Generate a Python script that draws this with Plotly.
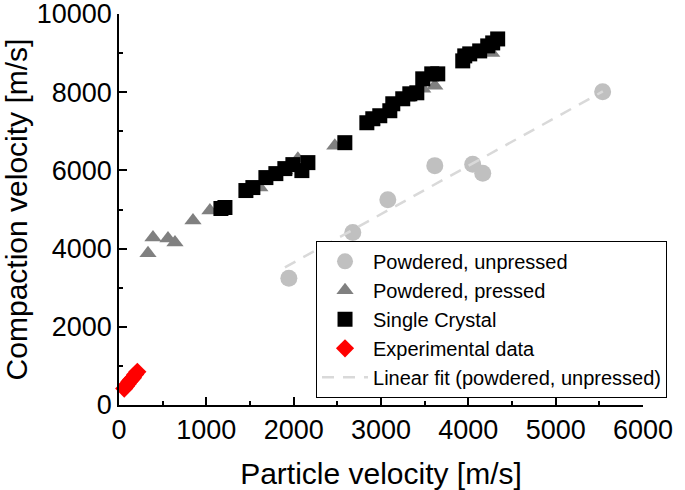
import plotly.graph_objects as go

# Powdered, unpressed
unp_x = [1945, 2677, 3078, 3616, 4050, 4165, 5538]
unp_y = [3240, 4413, 5250, 6122, 6160, 5930, 8010]

# Powdered, pressed
pr_x = [332, 389, 561, 641, 847, 1041, 1190, 1613, 1900, 2048, 2471, 2900, 3300, 3478, 3616, 4100, 4268]
pr_y = [3878, 4286, 4260, 4158, 4719, 4974, 4990, 5561, 6000, 6301, 6633, 7250, 7850, 8087, 8163, 9000, 9005]

# Single crystal
sc_x = [1167, 1213, 1453, 1533, 1682, 1796, 1899, 1991, 2094, 2163, 2586,
        2838, 2906, 2986, 3101, 3135, 3249, 3330, 3410, 3478, 3581, 3650,
        3936, 3959, 4016, 4130, 4222, 4279, 4336]
sc_y = [5026, 5051, 5485, 5561, 5816, 5918, 6046, 6148, 5995, 6199, 6709,
        7219, 7321, 7398, 7526, 7704, 7832, 7959, 7985, 8342, 8469, 8469,
        8801, 8929, 8980, 9056, 9184, 9260, 9362]

# Experimental data
ex_x = [60, 80, 100, 120, 140, 160, 185, 210]
ex_y = [420, 480, 540, 600, 650, 700, 780, 850]

# Linear fit (powdered, unpressed) endpoints
fit_x = [1900, 5540]
fit_y = [3520, 8020]

# Tick values / labels
x_ticks = [0, 1000, 2000, 3000, 4000, 5000, 6000]
y_ticks = [0, 2000, 4000, 6000, 8000, 10000]

FONT = "Liberation Sans"

fig = go.Figure()
fig.add_trace(go.Scatter(x=unp_x, y=unp_y, mode="markers", name="Powdered, unpressed",
                         marker=dict(symbol="circle", size=17, color="#c0c0c0")))
fig.add_trace(go.Scatter(x=pr_x, y=pr_y, mode="markers", name="Powdered, pressed",
                         marker=dict(symbol="triangle-up", size=15, color="#808080")))
fig.add_trace(go.Scatter(x=sc_x, y=sc_y, mode="markers", name="Single Crystal",
                         marker=dict(symbol="square", size=15, color="black")))
fig.add_trace(go.Scatter(x=ex_x, y=ex_y, mode="markers", name="Experimental data",
                         marker=dict(symbol="diamond", size=14, color="#ff0000")))
fig.add_trace(go.Scatter(x=fit_x, y=fit_y, mode="lines", name="Linear fit (powdered, unpressed)",
                         line=dict(color="#d9d9d9", width=2.5, dash="12px,9px")))

fig.update_traces(cliponaxis=False)

fig.update_layout(
    width=685, height=490,
    margin=dict(l=119, r=42, t=14, b=85, autoexpand=False),
    paper_bgcolor="white", plot_bgcolor="white",
    font=dict(family=FONT, color="black", size=27),
    xaxis=dict(
        range=[0, 6000], tickmode="array", tickvals=x_ticks, ticktext=[str(v) for v in x_ticks],
        showline=True, linecolor="black", linewidth=1.5,
        ticks="inside", ticklen=8, tickwidth=1.5, tickcolor="black",
        minor=dict(ticks="inside", ticklen=4, tickwidth=1.5, tickcolor="black", dtick=500, tick0=0),
        showgrid=False, zeroline=False, automargin=False, ticklabeloverflow="allow",
        tickfont=dict(family=FONT, size=27, color="black"),
        title=dict(text="Particle velocity [m/s]", font=dict(family=FONT, size=30, color="black"), standoff=19),
    ),
    yaxis=dict(
        range=[0, 10000], tickmode="array", tickvals=y_ticks, ticktext=[str(v) for v in y_ticks],
        showline=True, linecolor="black", linewidth=1.5,
        ticks="inside", ticklen=8, tickwidth=1.5, tickcolor="black",
        minor=dict(ticks="inside", ticklen=4, tickwidth=1.5, tickcolor="black", dtick=1000, tick0=0),
        showgrid=False, zeroline=False, automargin=False, ticklabeloverflow="allow",
        tickfont=dict(family=FONT, size=27, color="black"),
        title=dict(text="Compaction velocity [m/s]", font=dict(family=FONT, size=30, color="black"), standoff=6),
    ),
    legend=dict(x=0.376, y=0.219, xanchor="left", yanchor="middle",
                bordercolor="black", borderwidth=1, bgcolor="white",
                font=dict(family=FONT, size=20, color="black"),
                tracegroupgap=0, itemwidth=46),
    showlegend=True,
)

fig.write_html("out.html", config={"displayModeBar": False},
               post_script="document.body.style.margin='0';")
